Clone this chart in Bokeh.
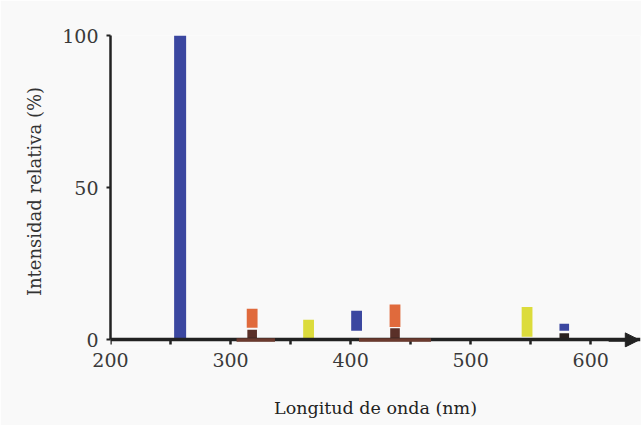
from bokeh.plotting import figure
from bokeh.embed import file_html
from bokeh.resources import INLINE
from bokeh.models import Range1d, FixedTicker, Arrow, NormalHead, LinearAxis, ColumnDataSource

# Spectral lines (wavelength in nm, relative intensity in %)
line_nm = [258, 318, 365, 405, 437, 547, 578]
line_bottom = [0, 4.0, 0.6, 3.0, 4.2, 1.0, 3.0]
line_top = [100, 10.2, 6.6, 9.6, 11.6, 10.8, 5.3]
line_colors = ["#3b47a0", "#e06a3c", "#dcdc3c", "#3b47a0", "#e06a3c", "#dcdc3c", "#3b47a0"]
line_width_nm = [10, 9, 9, 9, 9, 9, 8]

# Dark bases under some lines
base_nm = [318, 437, 578]
base_top = [3.3, 3.8, 2.2]
base_colors = ["#5a3028", "#5a3028", "#2a2220"]

# Brown baseline segments
seg_start = [305, 407]
seg_end = [337, 467]

x_ticks = [200, 300, 400, 500, 600]
x_minor = [250, 350, 450, 550]
y_ticks = [0, 50, 100]
x_min, x_max = 200, 641.5
y_min, y_max = -2.5, 100

BG = "#f9f9f9"
FONT = "DejaVu Serif"
AX = "#222222"

p = figure(width=641, height=425, output_backend="svg", toolbar_location=None,
           x_range=Range1d(x_min, x_max), y_range=Range1d(y_min, y_max),
           min_border_left=110, min_border_right=1, min_border_top=35, min_border_bottom=78,
           background_fill_color=BG, border_fill_color=BG)
p.outline_line_color = None
p.grid.visible = False

# x axis line with downward ticks, fixed at y = 0 (labels hidden)
xa = p.xaxis[0]
xa.fixed_location = 0
xa.ticker = FixedTicker(ticks=x_ticks, minor_ticks=x_minor)
xa.axis_line_width = 3.5
xa.axis_line_color = AX
xa.major_tick_in = 0
xa.major_tick_out = 5
xa.major_tick_line_width = 2.5
xa.major_tick_line_color = AX
xa.minor_tick_in = 0
xa.minor_tick_out = 5
xa.minor_tick_line_width = 2.5
xa.minor_tick_line_color = AX
xa.major_label_text_alpha = 0
xa.major_label_text_font_size = "1px"
xa.major_label_standoff = 0

# x axis tick labels and title
xl = LinearAxis(ticker=FixedTicker(ticks=x_ticks))
xl.axis_line_color = None
xl.major_tick_line_color = None
xl.minor_tick_line_color = None
xl.major_tick_in = 0
xl.major_tick_out = 0
xl.major_label_text_font = FONT
xl.major_label_text_font_size = "19px"
xl.major_label_text_color = "#3a3a3a"
xl.major_label_standoff = 5
xl.axis_label = "Longitud de onda (nm)"
xl.axis_label_text_font = FONT
xl.axis_label_text_font_size = "17.5px"
xl.axis_label_text_font_style = "normal"
xl.axis_label_text_color = AX
xl.axis_label_standoff = 28
p.add_layout(xl, "below")

# y axis
ya = p.yaxis[0]
ya.bounds = (0, y_max)
ya.ticker = FixedTicker(ticks=y_ticks)
ya.axis_line_width = 2.5
ya.axis_line_color = AX
ya.major_tick_in = 0
ya.major_tick_out = 4
ya.major_tick_line_width = 2
ya.major_tick_line_color = AX
ya.minor_tick_line_color = None
ya.major_label_text_font = FONT
ya.major_label_text_font_size = "19px"
ya.major_label_text_color = "#3a3a3a"
ya.major_label_standoff = 8
ya.axis_label = "Intensidad relativa (%)"
ya.axis_label_text_font = FONT
ya.axis_label_text_font_size = "18px"
ya.axis_label_text_font_style = "normal"
ya.axis_label_text_color = "#333333"
ya.axis_label_standoff = 14

# dark bases
p.vbar(x=base_nm, width=8, bottom=0, top=base_top, fill_color=base_colors, line_color=None)

# spectral lines
p.vbar(x=line_nm, width=line_width_nm, bottom=line_bottom, top=line_top,
       fill_color=line_colors, line_color=None)

# brown baseline segments (drawn over the axis line)
seg_src = ColumnDataSource(dict(x0=seg_start, y0=[0] * len(seg_start),
                                x1=seg_end, y1=[0] * len(seg_end)))
p.add_layout(Arrow(source=seg_src, start=None, end=None,
                   x_start="x0", y_start="y0", x_end="x1", y_end="y1",
                   line_color="#6b3a2e", line_width=3.5))

# arrow head at end of x axis
p.add_layout(Arrow(end=NormalHead(size=14, fill_color=AX, line_color=AX),
                   x_start=615, y_start=0, x_end=640.5, y_end=0,
                   line_color=AX, line_width=3.5))

open("out.html", "w").write(file_html(p, INLINE))
